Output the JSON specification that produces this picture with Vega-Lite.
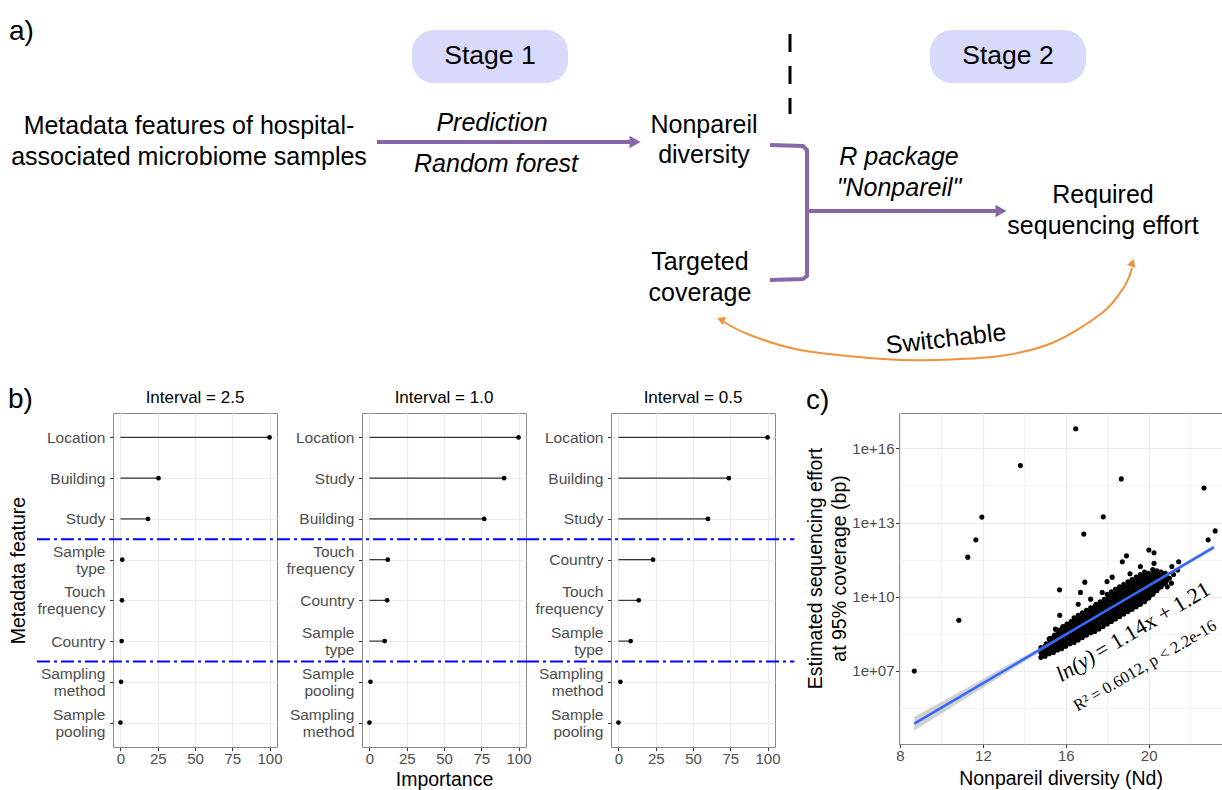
{
  "$schema": "https://vega.github.io/schema/vega-lite/v6.json",
  "padding": 0,
  "bounds": "flush",
  "spacing": 43,
  "datasets": {
    "imp": [
      {"iv":"2.5","feature":"Location","rank":1,"importance":100},
      {"iv":"2.5","feature":"Building","rank":2,"importance":25.5},
      {"iv":"2.5","feature":"Study","rank":3,"importance":18.5},
      {"iv":"2.5","feature":"Sample type","rank":4,"importance":1.2},
      {"iv":"2.5","feature":"Touch frequency","rank":5,"importance":1.0},
      {"iv":"2.5","feature":"Country","rank":6,"importance":0.8},
      {"iv":"2.5","feature":"Sampling method","rank":7,"importance":0.4},
      {"iv":"2.5","feature":"Sample pooling","rank":8,"importance":0},
      {"iv":"1.0","feature":"Location","rank":1,"importance":100},
      {"iv":"1.0","feature":"Study","rank":2,"importance":90.3},
      {"iv":"1.0","feature":"Building","rank":3,"importance":77},
      {"iv":"1.0","feature":"Touch frequency","rank":4,"importance":12.3},
      {"iv":"1.0","feature":"Country","rank":5,"importance":11.9},
      {"iv":"1.0","feature":"Sample type","rank":6,"importance":10.2},
      {"iv":"1.0","feature":"Sample pooling","rank":7,"importance":0.7},
      {"iv":"1.0","feature":"Sampling method","rank":8,"importance":0},
      {"iv":"0.5","feature":"Location","rank":1,"importance":100},
      {"iv":"0.5","feature":"Building","rank":2,"importance":74},
      {"iv":"0.5","feature":"Study","rank":3,"importance":60},
      {"iv":"0.5","feature":"Country","rank":4,"importance":23.2},
      {"iv":"0.5","feature":"Touch frequency","rank":5,"importance":13.6},
      {"iv":"0.5","feature":"Sample type","rank":6,"importance":8.2},
      {"iv":"0.5","feature":"Sampling method","rank":7,"importance":1.3},
      {"iv":"0.5","feature":"Sample pooling","rank":8,"importance":0}
    ],
    "sc": [
      {"nd":8.69,"bp":1.0e7},{"nd":10.84,"bp":1.12e9},{"nd":11.27,"bp":3.98e11},{"nd":11.66,"bp":2.0e12},{"nd":11.95,"bp":1.66e13},
      {"nd":13.81,"bp":2.0e15},{"nd":16.48,"bp":6.2e16},{"nd":16.87,"bp":3.4e12},{"nd":17.81,"bp":1.7e13},{"nd":18.68,"bp":5.8e14},
      {"nd":22.67,"bp":2.5e14},{"nd":22.87,"bp":2.0e12},{"nd":23.21,"bp":4.6e12},{"nd":15.7,"bp":1.9e10},{"nd":15.71,"bp":1.8e9},
      {"nd":16.92,"bp":3.9e10},{"nd":16.71,"bp":1.5e10},{"nd":18.73,"bp":2.6e11},{"nd":18.93,"bp":4.5e11},{"nd":20.01,"bp":7.8e11},
      {"nd":20.26,"bp":6.0e11},{"nd":21.45,"bp":2.6e11},{"nd":21.12,"bp":1.66e11},{"nd":20.77,"bp":4.4e10},{"nd":15.5,"bp":4.9e8},
      {"nd":15.26,"bp":2.1e8},{"nd":17.99,"bp":4.1e10},{"nd":18.24,"bp":6.2e10},{"nd":17.76,"bp":1.5e10},{"nd":19.6,"bp":1.66e11},
      {"nd":20.26,"bp":2.24e11},{"nd":20.74,"bp":7.6e10},{"nd":21.0,"bp":5.62e10},{"nd":21.2,"bp":7.94e10},{"nd":21.1,"bp":3.55e10},
      {"nd":20.9,"bp":2.51e10},{"nd":16.6,"bp":5.0e9},{"nd":17.2,"bp":8.0e9},{"nd":21.4,"bp":1.2e11},{"nd":19.1,"bp":8.5e10},
      {"nd":14.8,"bp":3.55e7},{"nd":14.86,"bp":4.47e7},{"nd":14.8,"bp":5.62e7},{"nd":14.86,"bp":7.08e7},{"nd":14.8,"bp":8.91e7},
      {"nd":15.0,"bp":3.98e7},{"nd":15.06,"bp":5.01e7},{"nd":15.0,"bp":6.31e7},{"nd":15.06,"bp":7.94e7},{"nd":15.0,"bp":1.0e8},{"nd":15.06,"bp":1.26e8},
      {"nd":15.2,"bp":5.01e7},{"nd":15.26,"bp":6.31e7},{"nd":15.2,"bp":7.94e7},{"nd":15.26,"bp":1.0e8},{"nd":15.2,"bp":1.26e8},{"nd":15.26,"bp":1.58e8},{"nd":15.2,"bp":2.0e8},
      {"nd":15.4,"bp":5.62e7},{"nd":15.46,"bp":7.08e7},{"nd":15.4,"bp":8.91e7},{"nd":15.46,"bp":1.12e8},{"nd":15.4,"bp":1.41e8},{"nd":15.46,"bp":1.78e8},{"nd":15.4,"bp":2.24e8},{"nd":15.46,"bp":2.82e8},
      {"nd":15.6,"bp":7.08e7},{"nd":15.66,"bp":8.91e7},{"nd":15.6,"bp":1.12e8},{"nd":15.66,"bp":1.41e8},{"nd":15.6,"bp":1.78e8},{"nd":15.66,"bp":2.24e8},{"nd":15.6,"bp":2.82e8},{"nd":15.66,"bp":3.55e8},{"nd":15.6,"bp":4.47e8},
      {"nd":15.8,"bp":7.94e7},{"nd":15.86,"bp":1.0e8},{"nd":15.8,"bp":1.26e8},{"nd":15.86,"bp":1.58e8},{"nd":15.8,"bp":2.0e8},{"nd":15.86,"bp":2.51e8},{"nd":15.8,"bp":3.16e8},{"nd":15.86,"bp":3.98e8},{"nd":15.8,"bp":5.01e8},{"nd":15.86,"bp":6.31e8},
      {"nd":16.0,"bp":1.0e8},{"nd":16.06,"bp":1.26e8},{"nd":16.0,"bp":1.58e8},{"nd":16.06,"bp":2.0e8},{"nd":16.0,"bp":2.51e8},{"nd":16.06,"bp":3.16e8},{"nd":16.0,"bp":3.98e8},{"nd":16.06,"bp":5.01e8},{"nd":16.0,"bp":6.31e8},{"nd":16.06,"bp":7.94e8},
      {"nd":16.2,"bp":1.26e8},{"nd":16.26,"bp":1.58e8},{"nd":16.2,"bp":2.0e8},{"nd":16.26,"bp":2.51e8},{"nd":16.2,"bp":3.16e8},{"nd":16.26,"bp":3.98e8},{"nd":16.2,"bp":5.01e8},{"nd":16.26,"bp":6.31e8},{"nd":16.2,"bp":7.94e8},{"nd":16.26,"bp":1.0e9},
      {"nd":16.4,"bp":1.41e8},{"nd":16.46,"bp":1.78e8},{"nd":16.4,"bp":2.24e8},{"nd":16.46,"bp":2.82e8},{"nd":16.4,"bp":3.55e8},{"nd":16.46,"bp":4.47e8},{"nd":16.4,"bp":5.62e8},{"nd":16.46,"bp":7.08e8},{"nd":16.4,"bp":8.91e8},{"nd":16.46,"bp":1.12e9},{"nd":16.4,"bp":1.41e9},
      {"nd":16.6,"bp":1.78e8},{"nd":16.66,"bp":2.24e8},{"nd":16.6,"bp":2.82e8},{"nd":16.66,"bp":3.55e8},{"nd":16.6,"bp":4.47e8},{"nd":16.66,"bp":5.62e8},{"nd":16.6,"bp":7.08e8},{"nd":16.66,"bp":8.91e8},{"nd":16.6,"bp":1.12e9},{"nd":16.66,"bp":1.41e9},{"nd":16.6,"bp":1.78e9},
      {"nd":16.8,"bp":2.24e8},{"nd":16.86,"bp":2.82e8},{"nd":16.8,"bp":3.55e8},{"nd":16.86,"bp":4.47e8},{"nd":16.8,"bp":5.62e8},{"nd":16.86,"bp":7.08e8},{"nd":16.8,"bp":8.91e8},{"nd":16.86,"bp":1.12e9},{"nd":16.8,"bp":1.41e9},{"nd":16.86,"bp":1.78e9},{"nd":16.8,"bp":2.24e9},
      {"nd":17.0,"bp":2.82e8},{"nd":17.06,"bp":3.55e8},{"nd":17.0,"bp":4.47e8},{"nd":17.06,"bp":5.62e8},{"nd":17.0,"bp":7.08e8},{"nd":17.06,"bp":8.91e8},{"nd":17.0,"bp":1.12e9},{"nd":17.06,"bp":1.41e9},{"nd":17.0,"bp":1.78e9},{"nd":17.06,"bp":2.24e9},{"nd":17.0,"bp":2.82e9},
      {"nd":17.2,"bp":3.55e8},{"nd":17.26,"bp":4.47e8},{"nd":17.2,"bp":5.62e8},{"nd":17.26,"bp":7.08e8},{"nd":17.2,"bp":8.91e8},{"nd":17.26,"bp":1.12e9},{"nd":17.2,"bp":1.41e9},{"nd":17.26,"bp":1.78e9},{"nd":17.2,"bp":2.24e9},{"nd":17.26,"bp":2.82e9},{"nd":17.2,"bp":3.55e9},
      {"nd":17.4,"bp":3.98e8},{"nd":17.46,"bp":5.01e8},{"nd":17.4,"bp":6.31e8},{"nd":17.46,"bp":7.94e8},{"nd":17.4,"bp":1.0e9},{"nd":17.46,"bp":1.26e9},{"nd":17.4,"bp":1.58e9},{"nd":17.46,"bp":2.0e9},{"nd":17.4,"bp":2.51e9},{"nd":17.46,"bp":3.16e9},{"nd":17.4,"bp":3.98e9},{"nd":17.46,"bp":5.01e9},
      {"nd":17.6,"bp":5.01e8},{"nd":17.66,"bp":6.31e8},{"nd":17.6,"bp":7.94e8},{"nd":17.66,"bp":1.0e9},{"nd":17.6,"bp":1.26e9},{"nd":17.66,"bp":1.58e9},{"nd":17.6,"bp":2.0e9},{"nd":17.66,"bp":2.51e9},{"nd":17.6,"bp":3.16e9},{"nd":17.66,"bp":3.98e9},{"nd":17.6,"bp":5.01e9},{"nd":17.66,"bp":6.31e9},
      {"nd":17.8,"bp":6.31e8},{"nd":17.86,"bp":7.94e8},{"nd":17.8,"bp":1.0e9},{"nd":17.86,"bp":1.26e9},{"nd":17.8,"bp":1.58e9},{"nd":17.86,"bp":2.0e9},{"nd":17.8,"bp":2.51e9},{"nd":17.86,"bp":3.16e9},{"nd":17.8,"bp":3.98e9},{"nd":17.86,"bp":5.01e9},{"nd":17.8,"bp":6.31e9},{"nd":17.86,"bp":7.94e9},
      {"nd":18.0,"bp":7.94e8},{"nd":18.06,"bp":1.0e9},{"nd":18.0,"bp":1.26e9},{"nd":18.06,"bp":1.58e9},{"nd":18.0,"bp":2.0e9},{"nd":18.06,"bp":2.51e9},{"nd":18.0,"bp":3.16e9},{"nd":18.06,"bp":3.98e9},{"nd":18.0,"bp":5.01e9},{"nd":18.06,"bp":6.31e9},{"nd":18.0,"bp":7.94e9},{"nd":18.06,"bp":1.0e10},{"nd":18.0,"bp":1.26e10},
      {"nd":18.2,"bp":1.0e9},{"nd":18.26,"bp":1.26e9},{"nd":18.2,"bp":1.58e9},{"nd":18.26,"bp":2.0e9},{"nd":18.2,"bp":2.51e9},{"nd":18.26,"bp":3.16e9},{"nd":18.2,"bp":3.98e9},{"nd":18.26,"bp":5.01e9},{"nd":18.2,"bp":6.31e9},{"nd":18.26,"bp":7.94e9},{"nd":18.2,"bp":1.0e10},{"nd":18.26,"bp":1.26e10},{"nd":18.2,"bp":1.58e10},
      {"nd":18.4,"bp":1.26e9},{"nd":18.46,"bp":1.58e9},{"nd":18.4,"bp":2.0e9},{"nd":18.46,"bp":2.51e9},{"nd":18.4,"bp":3.16e9},{"nd":18.46,"bp":3.98e9},{"nd":18.4,"bp":5.01e9},{"nd":18.46,"bp":6.31e9},{"nd":18.4,"bp":7.94e9},{"nd":18.46,"bp":1.0e10},{"nd":18.4,"bp":1.26e10},{"nd":18.46,"bp":1.58e10},{"nd":18.4,"bp":2.0e10},
      {"nd":18.6,"bp":1.58e9},{"nd":18.66,"bp":2.0e9},{"nd":18.6,"bp":2.51e9},{"nd":18.66,"bp":3.16e9},{"nd":18.6,"bp":3.98e9},{"nd":18.66,"bp":5.01e9},{"nd":18.6,"bp":6.31e9},{"nd":18.66,"bp":7.94e9},{"nd":18.6,"bp":1.0e10},{"nd":18.66,"bp":1.26e10},{"nd":18.6,"bp":1.58e10},{"nd":18.66,"bp":2.0e10},{"nd":18.6,"bp":2.51e10},
      {"nd":18.8,"bp":2.0e9},{"nd":18.86,"bp":2.51e9},{"nd":18.8,"bp":3.16e9},{"nd":18.86,"bp":3.98e9},{"nd":18.8,"bp":5.01e9},{"nd":18.86,"bp":6.31e9},{"nd":18.8,"bp":7.94e9},{"nd":18.86,"bp":1.0e10},{"nd":18.8,"bp":1.26e10},{"nd":18.86,"bp":1.58e10},{"nd":18.8,"bp":2.0e10},{"nd":18.86,"bp":2.51e10},{"nd":18.8,"bp":3.16e10},
      {"nd":19.0,"bp":2.51e9},{"nd":19.06,"bp":3.16e9},{"nd":19.0,"bp":3.98e9},{"nd":19.06,"bp":5.01e9},{"nd":19.0,"bp":6.31e9},{"nd":19.06,"bp":7.94e9},{"nd":19.0,"bp":1.0e10},{"nd":19.06,"bp":1.26e10},{"nd":19.0,"bp":1.58e10},{"nd":19.06,"bp":2.0e10},{"nd":19.0,"bp":2.51e10},{"nd":19.06,"bp":3.16e10},{"nd":19.0,"bp":3.98e10},
      {"nd":19.2,"bp":3.16e9},{"nd":19.26,"bp":3.98e9},{"nd":19.2,"bp":5.01e9},{"nd":19.26,"bp":6.31e9},{"nd":19.2,"bp":7.94e9},{"nd":19.26,"bp":1.0e10},{"nd":19.2,"bp":1.26e10},{"nd":19.26,"bp":1.58e10},{"nd":19.2,"bp":2.0e10},{"nd":19.26,"bp":2.51e10},{"nd":19.2,"bp":3.16e10},{"nd":19.26,"bp":3.98e10},{"nd":19.2,"bp":5.01e10},
      {"nd":19.4,"bp":3.98e9},{"nd":19.46,"bp":5.01e9},{"nd":19.4,"bp":6.31e9},{"nd":19.46,"bp":7.94e9},{"nd":19.4,"bp":1.0e10},{"nd":19.46,"bp":1.26e10},{"nd":19.4,"bp":1.58e10},{"nd":19.46,"bp":2.0e10},{"nd":19.4,"bp":2.51e10},{"nd":19.46,"bp":3.16e10},{"nd":19.4,"bp":3.98e10},{"nd":19.46,"bp":5.01e10},{"nd":19.4,"bp":6.31e10},
      {"nd":19.6,"bp":5.01e9},{"nd":19.66,"bp":6.31e9},{"nd":19.6,"bp":7.94e9},{"nd":19.66,"bp":1.0e10},{"nd":19.6,"bp":1.26e10},{"nd":19.66,"bp":1.58e10},{"nd":19.6,"bp":2.0e10},{"nd":19.66,"bp":2.51e10},{"nd":19.6,"bp":3.16e10},{"nd":19.66,"bp":3.98e10},{"nd":19.6,"bp":5.01e10},{"nd":19.66,"bp":6.31e10},{"nd":19.6,"bp":7.94e10},
      {"nd":19.8,"bp":6.31e9},{"nd":19.86,"bp":7.94e9},{"nd":19.8,"bp":1.0e10},{"nd":19.86,"bp":1.26e10},{"nd":19.8,"bp":1.58e10},{"nd":19.86,"bp":2.0e10},{"nd":19.8,"bp":2.51e10},{"nd":19.86,"bp":3.16e10},{"nd":19.8,"bp":3.98e10},{"nd":19.86,"bp":5.01e10},{"nd":19.8,"bp":6.31e10},{"nd":19.86,"bp":7.94e10},{"nd":19.8,"bp":1.0e11},
      {"nd":20.0,"bp":8.91e9},{"nd":20.06,"bp":1.12e10},{"nd":20.0,"bp":1.41e10},{"nd":20.06,"bp":1.78e10},{"nd":20.0,"bp":2.24e10},{"nd":20.06,"bp":2.82e10},{"nd":20.0,"bp":3.55e10},{"nd":20.06,"bp":4.47e10},{"nd":20.0,"bp":5.62e10},{"nd":20.06,"bp":7.08e10},{"nd":20.0,"bp":8.91e10},
      {"nd":20.2,"bp":1.26e10},{"nd":20.26,"bp":1.58e10},{"nd":20.2,"bp":2.0e10},{"nd":20.26,"bp":2.51e10},{"nd":20.2,"bp":3.16e10},{"nd":20.26,"bp":3.98e10},{"nd":20.2,"bp":5.01e10},{"nd":20.26,"bp":6.31e10},{"nd":20.2,"bp":7.94e10},{"nd":20.26,"bp":1.0e11},{"nd":20.2,"bp":1.26e11},
      {"nd":20.4,"bp":1.78e10},{"nd":20.46,"bp":2.24e10},{"nd":20.4,"bp":2.82e10},{"nd":20.46,"bp":3.55e10},{"nd":20.4,"bp":4.47e10},{"nd":20.46,"bp":5.62e10},{"nd":20.4,"bp":7.08e10},{"nd":20.46,"bp":8.91e10},{"nd":20.4,"bp":1.12e11},
      {"nd":20.6,"bp":2.51e10},{"nd":20.66,"bp":3.16e10},{"nd":20.6,"bp":3.98e10},{"nd":20.66,"bp":5.01e10},{"nd":20.6,"bp":6.31e10},{"nd":20.66,"bp":7.94e10},{"nd":20.6,"bp":1.0e11},
      {"nd":20.8,"bp":3.55e10},{"nd":20.86,"bp":4.47e10},{"nd":20.8,"bp":5.62e10},{"nd":20.86,"bp":7.08e10},{"nd":20.8,"bp":8.91e10}
    ]
  },
  "vconcat": [
    {
      "width": 1222,
      "height": 370,
      "encoding": {
        "x": {"field": "x", "type": "quantitative", "scale": {"domain": [0, 1222], "nice": false, "zero": false}, "axis": null},
        "y": {"field": "y", "type": "quantitative", "scale": {"domain": [0, 370], "reverse": true, "nice": false, "zero": false}, "axis": null}
      },
      "layer": [
        {
          "data": {"values": [{"x": 412, "x2": 568, "y": 30, "y2": 83}, {"x": 930, "x2": 1086, "y": 30, "y2": 83}]},
          "mark": {"type": "rect", "fill": "#D9D9FA", "cornerRadius": 22},
          "encoding": {"x2": {"field": "x2"}, "y2": {"field": "y2"}}
        },
        {
          "data": {"values": [{"x": 790, "y": 34, "y2": 114}]},
          "mark": {"type": "rule", "color": "#000000", "strokeWidth": 3, "strokeDash": [18, 14]},
          "encoding": {"y2": {"field": "y2"}}
        },
        {
          "data": {"values": [
            {"seg": "a1", "o": 1, "x": 377, "y": 142},
            {"seg": "a1", "o": 2, "x": 632, "y": 142},
            {"seg": "a2", "o": 1, "x": 807, "y": 211},
            {"seg": "a2", "o": 2, "x": 998, "y": 211},
            {"seg": "br", "o": 1, "x": 770, "y": 145},
            {"seg": "br", "o": 2, "x": 803, "y": 146},
            {"seg": "br", "o": 3, "x": 807, "y": 150},
            {"seg": "br", "o": 4, "x": 807, "y": 276},
            {"seg": "br", "o": 5, "x": 803, "y": 279},
            {"seg": "br", "o": 6, "x": 770, "y": 280}
          ]},
          "mark": {"type": "line", "color": "#8766A9", "strokeWidth": 4, "strokeJoin": "round"},
          "encoding": {"detail": {"field": "seg"}, "order": {"field": "o"}}
        },
        {
          "data": {"values": [{"x": 635, "y": 142}, {"x": 1001, "y": 211}]},
          "mark": {"type": "point", "shape": "triangle-right", "filled": true, "color": "#8766A9", "opacity": 1, "size": 160},
          "encoding": {}
        },
        {
          "data": {"values": [
            {"o": 1, "x": 1132, "y": 268},
            {"o": 2, "x": 1124, "y": 287},
            {"o": 3, "x": 1102, "y": 313},
            {"o": 4, "x": 1052, "y": 343},
            {"o": 5, "x": 1000, "y": 356},
            {"o": 6, "x": 933, "y": 360},
            {"o": 7, "x": 883, "y": 359},
            {"o": 8, "x": 800, "y": 350},
            {"o": 9, "x": 750, "y": 335},
            {"o": 10, "x": 724, "y": 322}
          ]},
          "mark": {"type": "line", "color": "#F0923B", "strokeWidth": 2, "interpolate": "cardinal"},
          "encoding": {"order": {"field": "o"}}
        },
        {
          "data": {"values": [{"x": 1132, "y": 264}]},
          "mark": {"type": "point", "shape": "triangle", "filled": true, "color": "#F0923B", "opacity": 1, "size": 80, "angle": 18},
          "encoding": {}
        },
        {
          "data": {"values": [{"x": 722, "y": 320}]},
          "mark": {"type": "point", "shape": "triangle", "filled": true, "color": "#F0923B", "opacity": 1, "size": 80, "angle": -66},
          "encoding": {}
        },
        {
          "data": {"values": [
            {"x": 189, "y": 126, "t": "Metadata features of hospital-"},
            {"x": 189, "y": 157, "t": "associated microbiome samples"},
            {"x": 704, "y": 125, "t": "Nonpareil"},
            {"x": 704, "y": 155, "t": "diversity"},
            {"x": 700, "y": 262, "t": "Targeted"},
            {"x": 700, "y": 293, "t": "coverage"},
            {"x": 1103, "y": 195, "t": "Required"},
            {"x": 1103, "y": 226, "t": "sequencing effort"}
          ]},
          "mark": {"type": "text", "fontSize": 25, "align": "center", "baseline": "middle", "color": "#000000"},
          "encoding": {"text": {"field": "t"}}
        },
        {
          "data": {"values": [
            {"x": 492, "y": 123, "t": "Prediction"},
            {"x": 496, "y": 164, "t": "Random forest"},
            {"x": 899, "y": 157, "t": "R package"},
            {"x": 899, "y": 188, "t": "\"Nonpareil\""}
          ]},
          "mark": {"type": "text", "fontSize": 25, "fontStyle": "italic", "align": "center", "baseline": "middle", "color": "#000000"},
          "encoding": {"text": {"field": "t"}}
        },
        {
          "data": {"values": [{"x": 490, "y": 56, "t": "Stage 1"}, {"x": 1008, "y": 56, "t": "Stage 2"}]},
          "mark": {"type": "text", "fontSize": 26.5, "align": "center", "baseline": "middle", "color": "#000000"},
          "encoding": {"text": {"field": "t"}}
        },
        {
          "data": {"values": [{"x": 946, "y": 339, "t": "Switchable"}]},
          "mark": {"type": "text", "fontSize": 25, "align": "center", "baseline": "middle", "angle": -6.5, "color": "#000000"},
          "encoding": {"text": {"field": "t"}}
        },
        {
          "data": {"values": [{"x": 9, "y": 40, "t": "a)"}]},
          "mark": {"type": "text", "fontSize": 28, "align": "left", "baseline": "alphabetic", "color": "#000000"},
          "encoding": {"text": {"field": "t"}}
        }
      ]
    },
    {
      "bounds": "flush",
      "spacing": 0,
      "hconcat": [
        {
          "width": 113,
          "height": 334,
          "title": {"text": "b)", "anchor": "start", "frame": "group", "dx": 8, "offset": -23, "fontSize": 28, "baseline": "alphabetic"},
          "data": {"values": [{"t": ""}]},
          "mark": {"type": "text"},
          "encoding": {"text": {"field": "t"}}
        },
        {
          "width": 164,
          "height": 334,
          "view": {"stroke": "#8a8a8a", "strokeWidth": 1},
          "title": {"text": "Interval = 2.5", "fontSize": 17, "baseline": "alphabetic", "offset": -7, "frame": "group", "anchor": "middle"},
          "data": {"name": "imp"},
          "transform": [{"filter": "datum.iv === '2.5'"}],
          "layer": [
            {
              "mark": {"type": "bar", "color": "#333333", "size": 1.2},
              "encoding": {
                "y": {"field": "feature", "type": "nominal", "sort": {"field": "rank", "op": "min"}, "scale": {"type": "point", "padding": 0.6}, "title": "Metadata feature",
                  "axis": {"grid": true, "gridColor": "#EBEBEB", "gridWidth": 1.2, "domain": false, "tickColor": "#333333", "tickSize": 3.5, "labelFontSize": 15.5, "labelColor": "#4D4D4D", "labelPadding": 4.5, "labelExpr": "split(datum.label, ' ')", "labelLineHeight": 17, "labelOffset": {"condition": {"test": "indexof(datum.value, ' ') >= 0", "value": -8.5}, "value": 0}, "titleFontSize": 19.5, "titlePadding": 8, "titleY": 157, "titleColor": "#000000"}},
                "x": {"field": "importance", "type": "quantitative", "scale": {"domain": [-5, 105], "nice": false, "zero": false}, "title": null,
                  "axis": {"values": [0, 12.5, 25, 37.5, 50, 62.5, 75, 87.5, 100], "labelExpr": "datum.value % 25 === 0 ? format(datum.value, 'd') : ''", "grid": true, "gridColor": "#EBEBEB", "gridWidth": {"condition": {"test": "datum.value % 25 !== 0", "value": 0.6}, "value": 1.2}, "tickOpacity": {"condition": {"test": "datum.value % 25 !== 0", "value": 0}, "value": 1}, "tickSize": 3.5, "tickColor": "#333333", "domain": false, "labelFontSize": 15, "labelColor": "#4D4D4D", "labelPadding": 1, "labelFlush": false, "labelOverlap": false, "title": null}}
              }
            },
            {
              "mark": {"type": "circle", "color": "#000000", "size": 22, "opacity": 1},
              "encoding": {
                "y": {"field": "feature", "type": "nominal", "sort": {"field": "rank", "op": "min"}, "scale": {"type": "point", "padding": 0.6}, "axis": null},
                "x": {"field": "importance", "type": "quantitative", "scale": {"domain": [-5, 105], "nice": false, "zero": false}, "title": null}
              }
            },
            {
              "data": {"values": [{"pos": 3.5, "importance": -56, "importance2": 105}, {"pos": 6.5, "importance": -56, "importance2": 105}]},
              "mark": {"type": "rule", "color": "#0000FF", "strokeWidth": 2, "strokeDash": [13, 4, 3, 4]},
              "encoding": {
                "y": {"field": "pos", "type": "quantitative", "scale": {"domain": [0.4, 8.6], "reverse": true, "nice": false, "zero": false}, "axis": null},
                "x": {"field": "importance", "type": "quantitative", "scale": {"domain": [-5, 105], "nice": false, "zero": false}, "title": null},
                "x2": {"field": "importance2"}
              }
            }
          ],
          "resolve": {"scale": {"y": "independent"}, "axis": {"y": "independent"}}
        },
        {
          "width": 85,
          "height": 334,
          "data": {"values": [{"t": ""}]},
          "mark": {"type": "text"},
          "encoding": {"text": {"field": "t"}}
        },
        {
          "width": 164,
          "height": 334,
          "view": {"stroke": "#8a8a8a", "strokeWidth": 1},
          "title": {"text": "Interval = 1.0", "fontSize": 17, "baseline": "alphabetic", "offset": -7, "frame": "group", "anchor": "middle"},
          "data": {"name": "imp"},
          "transform": [{"filter": "datum.iv === '1.0'"}],
          "layer": [
            {
              "mark": {"type": "bar", "color": "#333333", "size": 1.2},
              "encoding": {
                "y": {"field": "feature", "type": "nominal", "sort": {"field": "rank", "op": "min"}, "scale": {"type": "point", "padding": 0.6}, "title": null,
                  "axis": {"grid": true, "gridColor": "#EBEBEB", "gridWidth": 1.2, "domain": false, "tickColor": "#333333", "tickSize": 3.5, "labelFontSize": 15.5, "labelColor": "#4D4D4D", "labelPadding": 4.5, "labelExpr": "split(datum.label, ' ')", "labelLineHeight": 17, "labelOffset": {"condition": {"test": "indexof(datum.value, ' ') >= 0", "value": -8.5}, "value": 0}, "title": null}},
                "x": {"field": "importance", "type": "quantitative", "scale": {"domain": [-5, 105], "nice": false, "zero": false}, "title": "Importance",
                  "axis": {"values": [0, 12.5, 25, 37.5, 50, 62.5, 75, 87.5, 100], "labelExpr": "datum.value % 25 === 0 ? format(datum.value, 'd') : ''", "grid": true, "gridColor": "#EBEBEB", "gridWidth": {"condition": {"test": "datum.value % 25 !== 0", "value": 0.6}, "value": 1.2}, "tickOpacity": {"condition": {"test": "datum.value % 25 !== 0", "value": 0}, "value": 1}, "tickSize": 3.5, "tickColor": "#333333", "domain": false, "labelFontSize": 15, "labelColor": "#4D4D4D", "labelPadding": 1, "labelFlush": false, "labelOverlap": false, "title": "Importance", "titleFontSize": 19.5, "titlePadding": 4, "titleColor": "#000000"}}
              }
            },
            {
              "mark": {"type": "circle", "color": "#000000", "size": 22, "opacity": 1},
              "encoding": {
                "y": {"field": "feature", "type": "nominal", "sort": {"field": "rank", "op": "min"}, "scale": {"type": "point", "padding": 0.6}, "axis": null},
                "x": {"field": "importance", "type": "quantitative", "scale": {"domain": [-5, 105], "nice": false, "zero": false}, "title": "Importance"}
              }
            },
            {
              "data": {"values": [{"pos": 3.5, "importance": -62, "importance2": 105}, {"pos": 6.5, "importance": -62, "importance2": 105}]},
              "mark": {"type": "rule", "color": "#0000FF", "strokeWidth": 2, "strokeDash": [13, 4, 3, 4]},
              "encoding": {
                "y": {"field": "pos", "type": "quantitative", "scale": {"domain": [0.4, 8.6], "reverse": true, "nice": false, "zero": false}, "axis": null},
                "x": {"field": "importance", "type": "quantitative", "scale": {"domain": [-5, 105], "nice": false, "zero": false}, "title": "Importance"},
                "x2": {"field": "importance2"}
              }
            }
          ],
          "resolve": {"scale": {"y": "independent"}, "axis": {"y": "independent"}}
        },
        {
          "width": 85,
          "height": 334,
          "data": {"values": [{"t": ""}]},
          "mark": {"type": "text"},
          "encoding": {"text": {"field": "t"}}
        },
        {
          "width": 164,
          "height": 334,
          "view": {"stroke": "#8a8a8a", "strokeWidth": 1},
          "title": {"text": "Interval = 0.5", "fontSize": 17, "baseline": "alphabetic", "offset": -7, "frame": "group", "anchor": "middle"},
          "data": {"name": "imp"},
          "transform": [{"filter": "datum.iv === '0.5'"}],
          "layer": [
            {
              "mark": {"type": "bar", "color": "#333333", "size": 1.2},
              "encoding": {
                "y": {"field": "feature", "type": "nominal", "sort": {"field": "rank", "op": "min"}, "scale": {"type": "point", "padding": 0.6}, "title": null,
                  "axis": {"grid": true, "gridColor": "#EBEBEB", "gridWidth": 1.2, "domain": false, "tickColor": "#333333", "tickSize": 3.5, "labelFontSize": 15.5, "labelColor": "#4D4D4D", "labelPadding": 4.5, "labelExpr": "split(datum.label, ' ')", "labelLineHeight": 17, "labelOffset": {"condition": {"test": "indexof(datum.value, ' ') >= 0", "value": -8.5}, "value": 0}, "title": null}},
                "x": {"field": "importance", "type": "quantitative", "scale": {"domain": [-5, 105], "nice": false, "zero": false}, "title": null,
                  "axis": {"values": [0, 12.5, 25, 37.5, 50, 62.5, 75, 87.5, 100], "labelExpr": "datum.value % 25 === 0 ? format(datum.value, 'd') : ''", "grid": true, "gridColor": "#EBEBEB", "gridWidth": {"condition": {"test": "datum.value % 25 !== 0", "value": 0.6}, "value": 1.2}, "tickOpacity": {"condition": {"test": "datum.value % 25 !== 0", "value": 0}, "value": 1}, "tickSize": 3.5, "tickColor": "#333333", "domain": false, "labelFontSize": 15, "labelColor": "#4D4D4D", "labelPadding": 1, "labelFlush": false, "labelOverlap": false, "title": null}}
              }
            },
            {
              "mark": {"type": "circle", "color": "#000000", "size": 22, "opacity": 1},
              "encoding": {
                "y": {"field": "feature", "type": "nominal", "sort": {"field": "rank", "op": "min"}, "scale": {"type": "point", "padding": 0.6}, "axis": null},
                "x": {"field": "importance", "type": "quantitative", "scale": {"domain": [-5, 105], "nice": false, "zero": false}, "title": null}
              }
            },
            {
              "data": {"values": [{"pos": 3.5, "importance": -62, "importance2": 118}, {"pos": 6.5, "importance": -62, "importance2": 118}]},
              "mark": {"type": "rule", "color": "#0000FF", "strokeWidth": 2, "strokeDash": [13, 4, 3, 4]},
              "encoding": {
                "y": {"field": "pos", "type": "quantitative", "scale": {"domain": [0.4, 8.6], "reverse": true, "nice": false, "zero": false}, "axis": null},
                "x": {"field": "importance", "type": "quantitative", "scale": {"domain": [-5, 105], "nice": false, "zero": false}, "title": null},
                "x2": {"field": "importance2"}
              }
            }
          ],
          "resolve": {"scale": {"y": "independent"}, "axis": {"y": "independent"}}
        },
        {
          "width": 124,
          "height": 334,
          "data": {"values": [{"t": ""}]},
          "mark": {"type": "text"},
          "encoding": {"text": {"field": "t"}}
        },
        {
          "width": 323,
          "height": 331,
          "view": {"stroke": "#8a8a8a", "strokeWidth": 1},
          "title": {"text": "c)", "anchor": "start", "frame": "group", "dx": -93, "offset": -24, "fontSize": 28, "baseline": "alphabetic"},
          "layer": [
            {
              "data": {"name": "sc"},
              "mark": {"type": "circle", "color": "#000000", "size": 26, "opacity": 1},
              "encoding": {
                "x": {"field": "nd", "type": "quantitative", "scale": {"domain": [7.952, 23.54], "nice": false, "zero": false}, "title": "Nonpareil diversity (Nd)",
                  "axis": {"values": [8, 10, 12, 14, 16, 18, 20, 22], "labelExpr": "datum.value % 4 === 0 ? format(datum.value, 'd') : ''", "grid": true, "gridColor": "#EBEBEB", "gridWidth": {"condition": {"test": "datum.value % 4 !== 0", "value": 0.6}, "value": 1.2}, "tickOpacity": {"condition": {"test": "datum.value % 4 !== 0", "value": 0}, "value": 1}, "tickSize": 3.5, "tickColor": "#333333", "domain": false, "labelFontSize": 15, "labelColor": "#4D4D4D", "labelPadding": 1, "labelFlush": false, "labelOverlap": false, "titleFontSize": 19.5, "titlePadding": 6, "titleColor": "#000000"}},
                "y": {"field": "bp", "type": "quantitative", "scale": {"type": "log", "domain": [11190, 2.673e17], "nice": false}, "title": ["Estimated sequencing effort", "at 95% coverage (bp)"],
                  "axis": {"values": [316227.766, 1e7, 316227766, 1e10, 316227766017, 1e13, 316227766016838, 1e16], "labelExpr": "indexof([1e7, 1e10, 1e13, 1e16], datum.value) >= 0 ? '1e+' + (datum.value < 1e10 ? '0' : '') + round(log(datum.value) / LN10) : ''", "grid": true, "gridColor": "#EBEBEB", "gridWidth": {"condition": {"test": "indexof([1e7, 1e10, 1e13, 1e16], datum.value) < 0", "value": 0.6}, "value": 1.2}, "tickOpacity": {"condition": {"test": "indexof([1e7, 1e10, 1e13, 1e16], datum.value) < 0", "value": 0}, "value": 1}, "tickSize": 3.5, "tickColor": "#333333", "domain": false, "labelFontSize": 15, "labelColor": "#4D4D4D", "labelPadding": 1.5, "labelOverlap": false, "labelFlush": false, "titleFontSize": 19.5, "titlePadding": 2, "titleLineHeight": 24, "titleY": 155, "titleColor": "#000000"}}
              }
            },
            {
              "data": {"values": [
                {"nd": 8.69, "bp": 3.9e4, "bp2": 1.41e5},
                {"nd": 12, "bp": 2.09e6, "bp2": 4.79e6},
                {"nd": 16, "bp": 2.6e8, "bp2": 3.43e8},
                {"nd": 18, "bp": 2.58e9, "bp2": 3.24e9},
                {"nd": 20, "bp": 2.44e10, "bp2": 3.21e10},
                {"nd": 23.15, "bp": 7.94e11, "bp2": 1.26e12}
              ]},
              "mark": {"type": "area", "color": "#999999", "opacity": 0.45, "interpolate": "monotone"},
              "encoding": {
                "x": {"field": "nd", "type": "quantitative"},
                "y": {"field": "bp", "type": "quantitative"},
                "y2": {"field": "bp2"}
              }
            },
            {
              "data": {"values": [{"nd": 8.69, "bp": 7.4e4}, {"nd": 23.15, "bp": 1.0e12}]},
              "mark": {"type": "line", "color": "#3366FF", "strokeWidth": 2.5},
              "encoding": {
                "x": {"field": "nd", "type": "quantitative"},
                "y": {"field": "bp", "type": "quantitative"}
              }
            },
            {
              "data": {"values": [{"nd": 16.47, "bp": 1.62e7, "t": "ln(y)"}]},
              "mark": {"type": "text", "font": "Liberation Serif", "fontStyle": "italic", "fontSize": 22, "angle": -30.5, "align": "center", "baseline": "middle", "color": "#000000"},
              "encoding": {
                "x": {"field": "nd", "type": "quantitative"},
                "y": {"field": "bp", "type": "quantitative"},
                "text": {"field": "t"}
              }
            },
            {
              "data": {"values": [{"nd": 20.18, "bp": 1.12e9, "t": "= 1.14x + 1.21"}]},
              "mark": {"type": "text", "font": "Liberation Serif", "fontSize": 22, "angle": -30.5, "align": "center", "baseline": "middle", "color": "#000000"},
              "encoding": {
                "x": {"field": "nd", "type": "quantitative"},
                "y": {"field": "bp", "type": "quantitative"},
                "text": {"field": "t"}
              }
            },
            {
              "data": {"values": [{"nd": 19.82, "bp": 1.63e7, "t": "R² = 0.6012, p < 2.2e-16"}]},
              "mark": {"type": "text", "font": "Liberation Serif", "fontSize": 16.5, "angle": -30.7, "align": "center", "baseline": "middle", "color": "#000000"},
              "encoding": {
                "x": {"field": "nd", "type": "quantitative"},
                "y": {"field": "bp", "type": "quantitative"},
                "text": {"field": "t"}
              }
            }
          ]
        }
      ]
    }
  ],
  "config": {
    "font": "Liberation Sans",
    "view": {"stroke": null},
    "axis": {"labelFont": "Liberation Sans", "titleFont": "Liberation Sans", "titleFontWeight": "normal", "titleColor": "#000000"},
    "title": {"font": "Liberation Sans", "fontWeight": "normal", "color": "#000000"},
    "text": {"font": "Liberation Sans"}
  }
}
